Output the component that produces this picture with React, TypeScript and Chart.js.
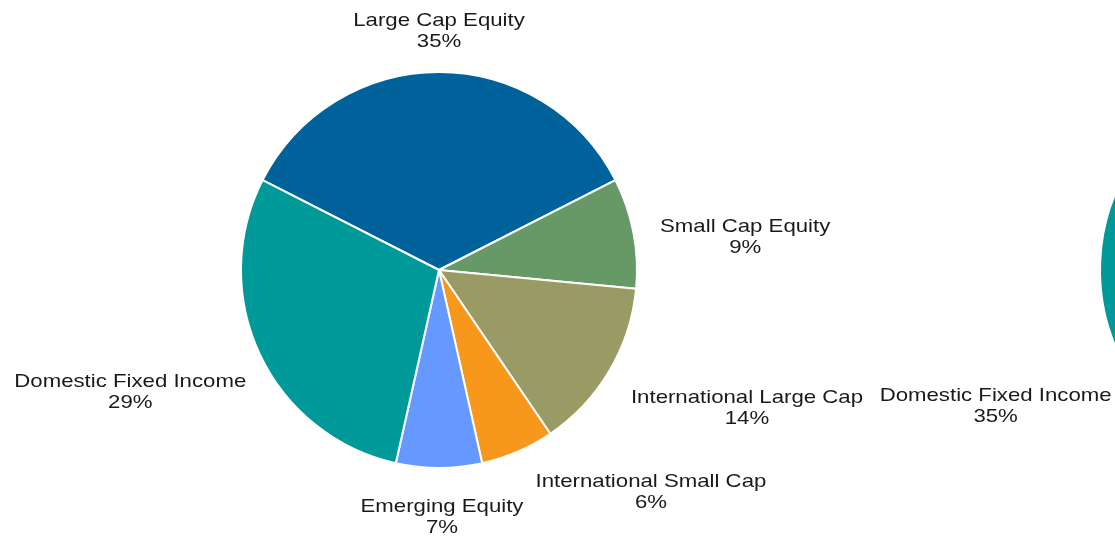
import React, { useEffect, useRef } from "react";
import { Chart, registerables } from "chart.js";

Chart.register(...registerables);

const categories = [
  "Large Cap Equity",
  "Small Cap Equity",
  "International Large Cap",
  "International Small Cap",
  "Emerging Equity",
  "Domestic Fixed Income",
];
const currentValues = [35, 9, 14, 6, 7, 29];
const targetValues = [31, 8, 12, 5, 9, 35];
const sliceColors = ["#00629b", "#669966", "#9a9a64", "#f7981d", "#6699ff", "#009999"];
const labelNudges = [
  [0, 6],
  [2, 14],
  [0, 15],
  [8, -1],
  [3, 4],
  [9, 19],
];

const TEXT_SCALE_X = 1.2;

const pieLabels = {
  id: "pieLabels",
  afterDraw(chart: any) {
    const ctx = chart.ctx as CanvasRenderingContext2D;
    const meta = chart.getDatasetMeta(0);
    const data = chart.data.datasets[0].data as number[];
    const labels = chart.data.labels as string[];
    const total = data.reduce((a, b) => a + b, 0);
    ctx.save();
    ctx.font = "18.5px 'Liberation Sans', Arial, sans-serif";
    ctx.fillStyle = "#1a1a1a";
    ctx.textAlign = "center";
    ctx.textBaseline = "alphabetic";
    meta.data.forEach((arc: any, i: number) => {
      const { x, y, startAngle, endAngle, outerRadius } = arc.getProps(
        ["x", "y", "startAngle", "endAngle", "outerRadius"],
        true
      );
      const mid = (startAngle + endAngle) / 2;
      const R = outerRadius + 25;
      const ax = x + R * Math.cos(mid);
      const ay = y + R * Math.sin(mid);
      const s = Math.cos(mid);
      const c = -Math.sin(mid);
      const lines = [labels[i], Math.round((data[i] / total) * 100) + "%"];
      const w = Math.max(...lines.map((l) => ctx.measureText(l).width)) * TEXT_SCALE_X;
      const left = s > 0.25 ? ax : s < -0.25 ? ax - w : ax - w / 2;
      const top = ay - (42 * (1 + c)) / 2;
      const [nx, ny] = labelNudges[i];
      const cx = left + w / 2 + nx;
      [top + 15 + ny, top + 36 + ny].forEach((by, k) => {
        ctx.save();
        ctx.translate(cx, by);
        ctx.scale(TEXT_SCALE_X, 1);
        ctx.fillText(lines[k], 0, 0);
        ctx.restore();
      });
    });
    ctx.restore();
  },
};

function PieChart({ values, left }: { values: number[]; left: number }) {
  const ref = useRef<HTMLCanvasElement | null>(null);
  useEffect(() => {
    if (!ref.current) return;
    const total = values.reduce((a, b) => a + b, 0);
    const chart = new Chart(ref.current, {
      type: "pie",
      data: {
        labels: categories,
        datasets: [
          {
            data: values,
            backgroundColor: sliceColors,
            borderColor: "#ffffff",
            borderWidth: 2,
            radius: 198,
          } as any,
        ],
      },
      options: {
        responsive: false,
        maintainAspectRatio: false,
        animation: false,
        rotation: -((values[0] / total) * 360) / 2,
        layout: { padding: 0 },
        plugins: {
          legend: { display: false },
          tooltip: { enabled: false },
        },
      },
      plugins: [pieLabels],
    });
    return () => chart.destroy();
  }, [values]);
  return (
    <canvas
      ref={ref}
      width={878}
      height={540}
      style={{ position: "absolute", left, top: 0, width: 878, height: 540 }}
    />
  );
}

export default function App() {
  return (
    <div
      style={{
        position: "fixed",
        left: 0,
        top: 0,
        width: 1115,
        height: 537,
        overflow: "hidden",
        background: "#ffffff",
      }}
    >
      <PieChart values={currentValues} left={0} />
      <PieChart values={targetValues} left={859} />
    </div>
  );
}
